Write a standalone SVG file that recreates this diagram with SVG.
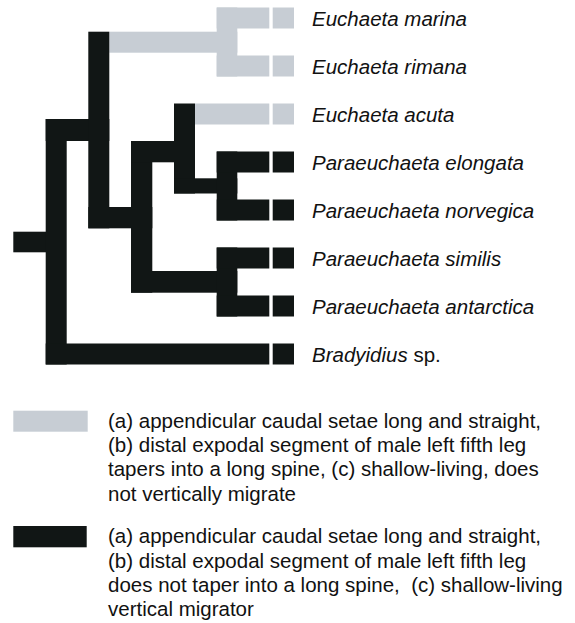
<svg xmlns="http://www.w3.org/2000/svg" width="575" height="623" viewBox="0 0 575 623">
<style>
.g{fill:#c7cdd4}
.k{fill:#111615}
.sp{font-family:"Liberation Sans",Arial,sans-serif;font-size:20.5px;font-style:italic;fill:#111}
.up{font-style:normal}
.lg{font-family:"Liberation Sans",Arial,sans-serif;font-size:20.5px;fill:#111;white-space:pre}
</style>
<rect width="575" height="623" fill="#fff"/>
<g id="connectors">
  <rect class="g" x="109.3" y="31.7" width="128" height="21"/>
  <rect class="g" x="216.7" y="7.5" width="20.6" height="69"/>
  <rect class="g" x="216.7" y="7.5" width="52.6" height="21"/>
  <rect class="g" x="216.7" y="55.5" width="52.6" height="21"/>
  <rect class="g" x="195" y="103.5" width="74.3" height="21"/>
  <rect class="k" x="13.3" y="231.7" width="33" height="20.6"/>
  <rect class="k" x="45.7" y="119" width="21" height="245.5"/>
  <rect class="k" x="45.7" y="343.5" width="223.6" height="21"/>
  <rect class="k" x="45.7" y="119" width="63.6" height="22"/>
  <rect class="k" x="88.3" y="31.7" width="21" height="196.6"/>
  <rect class="k" x="88.3" y="207" width="64" height="21.3"/>
  <rect class="k" x="131" y="141" width="21.3" height="151.7"/>
  <rect class="k" x="131" y="141" width="64" height="21.3"/>
  <rect class="k" x="174" y="103.5" width="21" height="90"/>
  <rect class="k" x="174" y="178.3" width="63.3" height="15.2"/>
  <rect class="k" x="216.7" y="151.5" width="20.6" height="69"/>
  <rect class="k" x="216.7" y="151.5" width="52.6" height="21"/>
  <rect class="k" x="216.7" y="199.5" width="52.6" height="21"/>
  <rect class="k" x="131" y="271" width="106.3" height="21.7"/>
  <rect class="k" x="216.7" y="247.5" width="20.6" height="69"/>
  <rect class="k" x="216.7" y="247.5" width="52.6" height="21"/>
  <rect class="k" x="216.7" y="295.5" width="52.6" height="21"/>
</g>
<g id="taxon-euchaeta-marina">
  <rect class="g" x="272.7" y="7.5" width="21.3" height="21"/>
  <text class="sp" x="312" y="26">Euchaeta marina</text>
</g>
<g id="taxon-euchaeta-rimana">
  <rect class="g" x="272.7" y="55.5" width="21.3" height="21"/>
  <text class="sp" x="312" y="74">Euchaeta rimana</text>
</g>
<g id="taxon-euchaeta-acuta">
  <rect class="g" x="272.7" y="103.5" width="21.3" height="21"/>
  <text class="sp" x="312" y="122">Euchaeta acuta</text>
</g>
<g id="taxon-paraeuchaeta-elongata">
  <rect class="k" x="272.7" y="151.5" width="21.3" height="21"/>
  <text class="sp" x="312" y="170">Paraeuchaeta elongata</text>
</g>
<g id="taxon-paraeuchaeta-norvegica">
  <rect class="k" x="272.7" y="199.5" width="21.3" height="21"/>
  <text class="sp" x="312" y="218">Paraeuchaeta norvegica</text>
</g>
<g id="taxon-paraeuchaeta-similis">
  <rect class="k" x="272.7" y="247.5" width="21.3" height="21"/>
  <text class="sp" x="312" y="266">Paraeuchaeta similis</text>
</g>
<g id="taxon-paraeuchaeta-antarctica">
  <rect class="k" x="272.7" y="295.5" width="21.3" height="21"/>
  <text class="sp" x="312" y="314">Paraeuchaeta antarctica</text>
</g>
<g id="taxon-bradyidius">
  <rect class="k" x="272.7" y="343.5" width="21.3" height="21"/>
  <text class="sp" x="312" y="362">Bradyidius<tspan class="up"> sp.</tspan></text>
</g>
<g id="legend-gray">
  <rect class="g" x="13.3" y="410.7" width="74.4" height="21"/>
  <text class="lg" x="108"><tspan x="108" y="427.6">(a) appendicular caudal setae long and straight,</tspan><tspan x="108" y="451.9">(b) distal expodal segment of male left fifth leg</tspan><tspan x="108" y="476.2">tapers into a long spine, (c) shallow-living, does</tspan><tspan x="108" y="500.5">not vertically migrate</tspan></text>
</g>
<g id="legend-black">
  <rect class="k" x="13.3" y="526" width="73.4" height="21.3"/>
  <text class="lg" x="108"><tspan x="108" y="543.3">(a) appendicular caudal setae long and straight,</tspan><tspan x="108" y="567.6">(b) distal expodal segment of male left fifth leg</tspan><tspan x="108" y="591.9">does not taper into a long spine,&#160; (c) shallow-living</tspan><tspan x="108" y="616.2">vertical migrator</tspan></text>
</g>
</svg>
